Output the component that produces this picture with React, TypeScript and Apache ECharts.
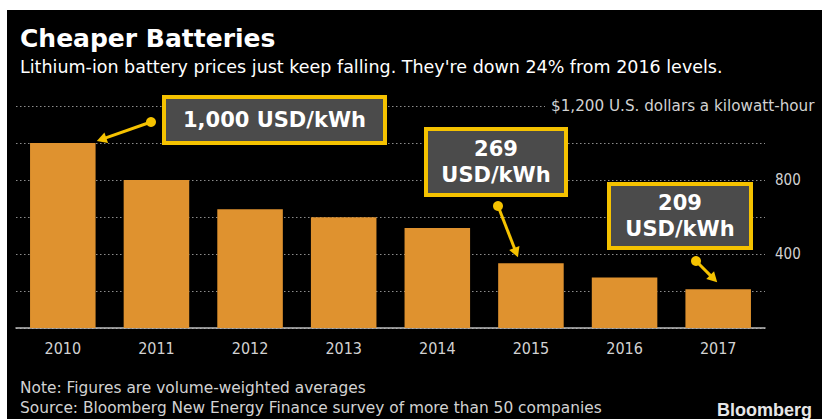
import React, { useEffect, useRef } from "react";
import * as echarts from "echarts";

const categories = ["2010", "2011", "2012", "2013", "2014", "2015", "2016", "2017"];
const prices = [1000, 800, 642, 599, 540, 350, 273, 209];
const shownTicks = [400, 800];
const unitLabel = "$1,200 U.S. dollars a kilowatt-hour";
const titleText = "Cheaper Batteries";
const subtitleText = "Lithium-ion battery prices just keep falling. They're down 24% from 2016 levels.";
const noteText = "Note: Figures are volume-weighted averages";
const sourceText = "Source: Bloomberg New Energy Finance survey of more than 50 companies";
const callouts = [
  { lines: ["1,000 USD/kWh"], index: 0 },
  { lines: ["269", "USD/kWh"], index: 5 },
  { lines: ["209", "USD/kWh"], index: 7 },
];

const BAR = "#DF922F";
const GOLD = "#F5C200";
const BOX = "#4b4b4b";
const LABEL = "#d2d2d2";
const SANS = "'DejaVu Sans', Verdana, sans-serif";
const COND = "'DejaVu Sans Condensed', 'Liberation Sans Narrow', 'DejaVu Sans', sans-serif";

// callout layout (box rect, dot position, tip offset from bar top centre)
const calloutLayout = [
  { box: [164, 97, 221, 46], dot: [151, 122], tipOff: [34, -2] },
  { box: [426, 129, 140, 66], dot: [498, 206], tipOff: [-13, -6] },
  { box: [609, 184, 142, 64], dot: [696, 261], tipOff: [-1, -7] },
];

export default function App() {
  const ref = useRef<HTMLDivElement>(null);
  useEffect(() => {
    if (!ref.current) return;
    const chart = echarts.init(ref.current, undefined, { renderer: "svg" });
    chart.setOption({
      animation: false,
      backgroundColor: "#000",
      grid: { left: 16, right: 57, top: 106, bottom: 91 },
      xAxis: {
        type: "category",
        data: categories,
        axisLine: { lineStyle: { color: "#bdbdbd", width: 1.5 } },
        axisTick: { alignWithLabel: true, length: 5, lineStyle: { color: "#bdbdbd" } },
        axisLabel: { color: LABEL, fontSize: 16, fontFamily: COND, margin: 12 },
      },
      yAxis: {
        type: "value",
        position: "right",
        min: 0,
        max: 1200,
        interval: 200,
        axisLine: { show: false },
        axisTick: { show: false },
        splitLine: { lineStyle: { color: "#8c8c8c", type: [1.5, 2.5], width: 1 } },
        axisLabel: {
          color: LABEL,
          fontSize: 15,
          fontFamily: COND,
          margin: 10,
          formatter: (v: number) => (shownTicks.includes(v) ? String(v) : ""),
        },
      },
      series: [
        {
          type: "bar",
          data: prices,
          barCategoryGap: "30%",
          itemStyle: { color: BAR },
          z: 3,
        },
      ],
    });

    const graphics: any[] = [
      { type: "rect", shape: { x: 0, y: 0, width: 822, height: 10 }, style: { fill: "#fff" }, z: 200 },
      { type: "rect", shape: { x: 0, y: 0, width: 7, height: 419 }, style: { fill: "#fff" }, z: 200 },
      {
        type: "text", x: 20, y: 38, z: 50,
        style: { text: titleText, fill: "#fff", font: `bold 25px ${SANS}`, verticalAlign: "middle" },
      },
      {
        type: "text", x: 20, y: 67, z: 50,
        style: { text: subtitleText, fill: "#fff", font: `17.5px ${SANS}`, verticalAlign: "middle" },
      },
      {
        type: "text", x: 545, y: 106, z: 50,
        style: {
          text: unitLabel, fill: LABEL, font: `15.2px ${SANS}`, verticalAlign: "middle",
          backgroundColor: "#000", padding: [2, 0, 2, 6],
        },
      },
      {
        type: "text", x: 20, y: 388, z: 50,
        style: { text: noteText, fill: LABEL, font: `15.4px ${SANS}`, verticalAlign: "middle" },
      },
      {
        type: "text", x: 20, y: 408, z: 50,
        style: { text: sourceText, fill: LABEL, font: `15.4px ${SANS}`, verticalAlign: "middle" },
      },
      {
        type: "text", x: 812, y: 410, z: 50,
        style: {
          text: "Bloomberg", fill: "#e6e6e6", font: `bold 18px 'Liberation Sans', Arial, sans-serif`,
          align: "right", verticalAlign: "middle",
        },
      },
    ];

    callouts.forEach((c, i) => {
      const L = calloutLayout[i];
      const [bx, by, bw, bh] = L.box;
      graphics.push({
        type: "rect", z: 60,
        shape: { x: bx, y: by, width: bw, height: bh },
        style: { fill: BOX, stroke: GOLD, lineWidth: 4 },
      });
      const lh = 26;
      const startY = by + bh / 2 - ((c.lines.length - 1) * lh) / 2;
      c.lines.forEach((ln, k) => {
        graphics.push({
          type: "text", z: 61, x: bx + bw / 2, y: startY + k * lh,
          style: { text: ln, fill: "#fff", font: `bold 21px ${SANS}`, align: "center", verticalAlign: "middle" },
        });
      });
      const top = chart.convertToPixel({ seriesIndex: 0 }, [c.index, prices[c.index]]) as number[];
      const tip = [top[0] + L.tipOff[0], top[1] + L.tipOff[1]];
      const [dx0, dy0] = L.dot;
      const vx = tip[0] - dx0, vy = tip[1] - dy0;
      const len = Math.hypot(vx, vy);
      const ux = vx / len, uy = vy / len;
      const hl = 10, hw = 5.5;
      const base = [tip[0] - ux * hl, tip[1] - uy * hl];
      graphics.push({
        type: "line", z: 62,
        shape: { x1: dx0, y1: dy0, x2: base[0] + ux * 2, y2: base[1] + uy * 2 },
        style: { stroke: GOLD, lineWidth: 3 },
      });
      graphics.push({
        type: "polygon", z: 62,
        shape: {
          points: [
            tip,
            [base[0] - uy * hw, base[1] + ux * hw],
            [base[0] + uy * hw, base[1] - ux * hw],
          ],
        },
        style: { fill: GOLD },
      });
      graphics.push({
        type: "circle", z: 62,
        shape: { cx: dx0, cy: dy0, r: 5 },
        style: { fill: GOLD },
      });
    });

    chart.setOption({ graphic: graphics });
    return () => chart.dispose();
  }, []);
  return (
    <div
      ref={ref}
      style={{ position: "absolute", left: 0, top: 0, width: 822, height: 419 }}
    />
  );
}
